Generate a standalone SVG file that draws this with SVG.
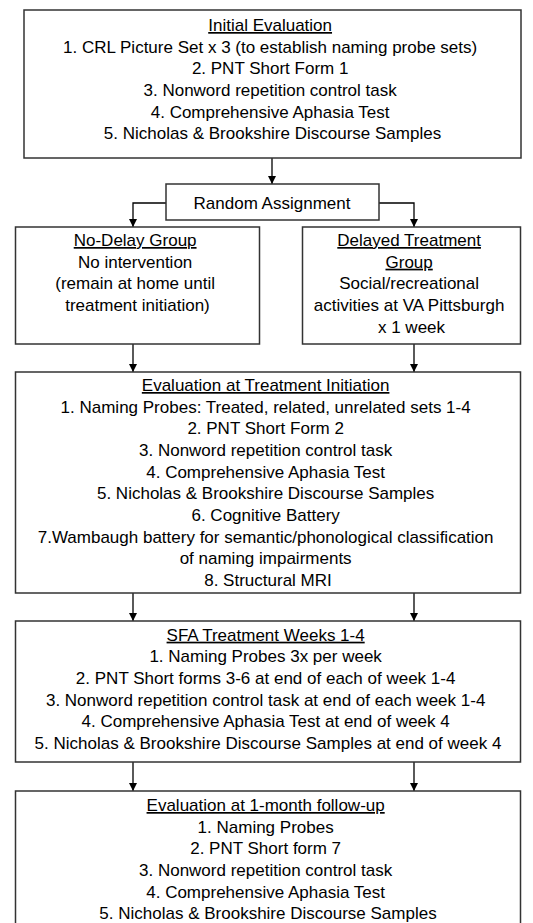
<svg xmlns="http://www.w3.org/2000/svg" width="533" height="923" viewBox="0 0 533 923">
<style>
.box{fill:#fff;stroke:#333;stroke-width:1.5}
.t{font-family:"Liberation Sans",Arial,sans-serif;font-size:17px;fill:#000;text-anchor:middle}
.u{text-decoration:underline}
.c{fill:none;stroke:#000;stroke-width:1.3;marker-end:url(#ah)}
</style>
<defs>
<marker id="ah" markerUnits="userSpaceOnUse" markerWidth="8" markerHeight="8" refX="8" refY="4" orient="auto">
<path d="M0,0 L8,4 L0,8 z" fill="#000"/>
</marker>
</defs>
<rect width="533" height="923" fill="#fff"/>
<g id="connectors">
<path class="c" d="M272,158 V184"/>
<path class="c" d="M166,203 H133 V227"/>
<path class="c" d="M379,203 H414 V227"/>
<path class="c" d="M133,344 V372"/>
<path class="c" d="M414,344 V372"/>
<path class="c" d="M133,593 V621"/>
<path class="c" d="M414,593 V621"/>
<path class="c" d="M133,762 V791"/>
<path class="c" d="M414,762 V791"/>
</g>
<g id="initial">
<rect class="box" x="24" y="10" width="497" height="148"/>
<text class="t"><tspan class="u" x="272.5" y="31">Initial Evaluation</tspan>
<tspan x="272.5" y="52.7">1. CRL Picture Set x 3 (to establish naming probe sets)</tspan>
<tspan x="272.5" y="74.3">2. PNT Short Form 1</tspan>
<tspan x="272.5" y="96">3. Nonword repetition control task</tspan>
<tspan x="272.5" y="117.7">4. Comprehensive Aphasia Test</tspan>
<tspan x="272.5" y="139.3">5. Nicholas &amp; Brookshire Discourse Samples</tspan></text>
</g>
<g id="random">
<rect class="box" x="166" y="184" width="213" height="36"/>
<text class="t" x="272" y="209">Random Assignment</text>
</g>
<g id="nodelay">
<rect class="box" x="15.5" y="227" width="244" height="117"/>
<text class="t"><tspan class="u" x="137.5" y="246">No-Delay Group</tspan>
<tspan x="137.5" y="267.7">No intervention</tspan>
<tspan x="137.5" y="289.3">(remain at home until</tspan>
<tspan x="137.5" y="311">treatment initiation)</tspan></text>
</g>
<g id="delayed">
<rect class="box" x="302.5" y="227" width="218" height="117"/>
<text class="t"><tspan class="u" x="411.5" y="246">Delayed Treatment</tspan>
<tspan class="u" x="411.5" y="267.7">Group</tspan>
<tspan x="411.5" y="289.3">Social/recreational</tspan>
<tspan x="411.5" y="311">activities at VA Pittsburgh</tspan>
<tspan x="411.5" y="332.7">x 1 week</tspan></text>
</g>
<g id="evalinit">
<rect class="box" x="15.5" y="372" width="505" height="221"/>
<text class="t"><tspan class="u" x="268" y="391">Evaluation at Treatment Initiation</tspan>
<tspan x="268" y="412.7">1. Naming Probes: Treated, related, unrelated sets 1-4</tspan>
<tspan x="268" y="434.3">2. PNT Short Form 2</tspan>
<tspan x="268" y="456">3. Nonword repetition control task</tspan>
<tspan x="268" y="477.7">4. Comprehensive Aphasia Test</tspan>
<tspan x="268" y="499.3">5. Nicholas &amp; Brookshire Discourse Samples</tspan>
<tspan x="268" y="521">6. Cognitive Battery</tspan>
<tspan x="268" y="542.7">7.Wambaugh battery for semantic/phonological classification</tspan>
<tspan x="268" y="564.3">of naming impairments</tspan>
<tspan x="268" y="586">8. Structural MRI</tspan></text>
</g>
<g id="sfa">
<rect class="box" x="15.5" y="621" width="505" height="141"/>
<text class="t"><tspan class="u" x="268" y="640.7">SFA Treatment Weeks 1-4</tspan>
<tspan x="268" y="662.3">1. Naming Probes 3x per week</tspan>
<tspan x="268" y="684">2. PNT Short forms 3-6 at end of each of week 1-4</tspan>
<tspan x="268" y="705.7">3. Nonword repetition control task at end of each week 1-4</tspan>
<tspan x="268" y="727.3">4. Comprehensive Aphasia Test at end of week 4</tspan>
<tspan x="268" y="749">5. Nicholas &amp; Brookshire Discourse Samples at end of week 4</tspan></text>
</g>
<g id="followup">
<rect class="box" x="15.5" y="791" width="505" height="150"/>
<text class="t"><tspan class="u" x="268" y="811">Evaluation at 1-month follow-up</tspan>
<tspan x="268" y="832.7">1. Naming Probes</tspan>
<tspan x="268" y="854.3">2. PNT Short form 7</tspan>
<tspan x="268" y="876">3. Nonword repetition control task</tspan>
<tspan x="268" y="897.7">4. Comprehensive Aphasia Test</tspan>
<tspan x="268" y="919.3">5. Nicholas &amp; Brookshire Discourse Samples</tspan></text>
</g>
</svg>
